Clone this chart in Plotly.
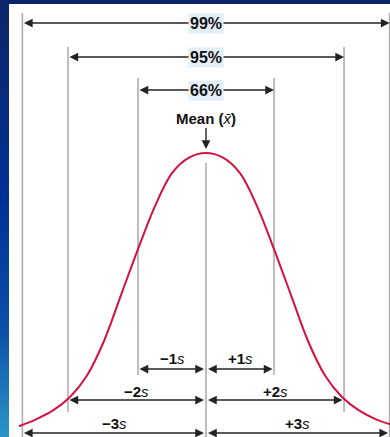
import plotly.graph_objects as go

# ---- data -------------------------------------------------------------
# Boundary positions (in units of s) of the drawn guide lines
bound_pos = [-2.7, -2.03, -1.0, 0.0, 1.0, 2.03, 2.7]
coverage_labels = ["66%", "95%", "99%"]          # inner -> outer
left_sd_labels = ["−1", "−2", "−3"]
right_sd_labels = ["+1", "+2", "+3"]

# Bell curve, relative height (peak = 1) against distance from the mean in s
curve_x = [-2.75, -2.5, -2.25, -2.0, -1.75, -1.5, -1.25, -1.0, -0.75, -0.5, -0.25,
           0.0, 0.25, 0.5, 0.75, 1.0, 1.25, 1.5, 1.75, 2.0, 2.25, 2.5, 2.75]
curve_y = [0.048, 0.072, 0.103, 0.150, 0.225, 0.345, 0.505, 0.665, 0.815, 0.930, 0.984,
           1.000, 0.984, 0.930, 0.815, 0.665, 0.505, 0.345, 0.225, 0.150, 0.103, 0.072, 0.052]

# ---- layout helpers ---------------------------------------------------
W, H = 390, 437
MEAN_PX, UNIT_PX = 206, 68        # horizontal placement of the mean and of 1 s
BASE_PX, PEAK_PX = 440, 153       # vertical placement of baseline and peak
SCALE = BASE_PX - PEAK_PX


def yv(px):
    """Vertical pixel row -> y-axis value."""
    return (BASE_PX - px) / SCALE


FONT = "Liberation Sans, Arial, sans-serif"
LINE_GREY = "#a9a9a9"
ARROW = "#242424"
CURVE = "#d3123f"

fig = go.Figure()

fig.add_trace(go.Scatter(
    x=curve_x, y=curve_y, mode="lines",
    line=dict(color=CURVE, width=2, shape="spline", smoothing=1.0),
    hoverinfo="skip", showlegend=False,
))

shapes = []

# Blue frame: gradient strip down the left, dark band along the top
stops = [(0, (13, 38, 104)), (200, (0, 48, 150)), (330, (12, 80, 168)), (437, (44, 150, 200))]


def frame_color(p):
    for (p0, c0), (p1, c1) in zip(stops[:-1], stops[1:]):
        if p0 <= p <= p1:
            t = (p - p0) / (p1 - p0)
            return "rgb(%d,%d,%d)" % tuple(round(a + (b - a) * t) for a, b in zip(c0, c1))
    return "rgb(%d,%d,%d)" % stops[-1][1]


band = 6
for top in range(0, H, band):
    shapes.append(dict(type="rect", xref="paper", yref="paper", layer="below",
                       x0=0, x1=9 / W, y0=1 - min(top + band + 1, H) / H, y1=1 - top / H,
                       line=dict(width=0), fillcolor=frame_color(top + band / 2)))
shapes.append(dict(type="rect", xref="paper", yref="paper", layer="below",
                   x0=0, x1=1, y0=1 - 4 / H, y1=1,
                   line=dict(width=0), fillcolor="rgb(12,36,104)"))

# Vertical guide lines: (top px, bottom px) for each boundary
line_spans = {0: (13, 437), 1: (47, 412), 2: (78, 375), 3: (163, 437),
              4: (78, 375), 5: (47, 412), 6: (13, 437)}
for i, xb in enumerate(bound_pos):
    top, bot = line_spans[i]
    shapes.append(dict(type="line", xref="x", yref="y", layer="below",
                       x0=xb, x1=xb, y0=yv(top), y1=yv(bot),
                       line=dict(color=LINE_GREY, width=1.5)))

annotations = []


def arrow(x_from, x_to, row, start_gap=0, end_gap=0):
    annotations.append(dict(
        x=x_to, y=yv(row), ax=x_from, ay=yv(row), xref="x", yref="y",
        axref="x", ayref="y", text="", showarrow=True,
        arrowside="end+start", arrowhead=2, startarrowhead=2,
        arrowsize=1.25, startarrowsize=1.25, arrowwidth=1.4, arrowcolor=ARROW,
        standoff=end_gap, startstandoff=start_gap))


# Coverage spans across the top
cov_rows = [90, 57, 23]
for k, (lab, row) in enumerate(zip(coverage_labels, cov_rows)):
    lo, hi = bound_pos[2 - k], bound_pos[4 + k]
    arrow(lo, hi, row)
    annotations.append(dict(
        x=0, y=yv(row), xref="x", yref="y", text=lab, showarrow=False,
        font=dict(family=FONT, size=16, color="#111111", weight="bold"),
        bgcolor="#e3eef9", borderpad=1))

# Mean marker
annotations.append(dict(
    x=0, y=yv(149), xref="x", yref="y",
    text="<b>Mean (</b><i>x̄</i><b>)</b>",
    showarrow=True, ax=0, ay=-31, arrowhead=2, arrowsize=1.25, arrowwidth=1.4,
    arrowcolor=ARROW, standoff=0,
    font=dict(family=FONT, size=15, color="#111111")))

# Standard-deviation spans along the bottom
sd_rows = [369, 400, 433]
sd_text_rows = [358, 391, 423]
for k in range(3):
    lo, hi = bound_pos[2 - k], bound_pos[4 + k]
    arrow(lo, 0, sd_rows[k], end_gap=2)
    arrow(hi, 0, sd_rows[k], end_gap=2)
    for lab, xc in ((left_sd_labels[k], lo / 2), (right_sd_labels[k], hi / 2)):
        annotations.append(dict(
            x=xc, y=yv(sd_text_rows[k]), xref="x", yref="y",
            text="<b>%s</b><i>s</i>" % lab,
            showarrow=False, font=dict(family=FONT, size=15, color="#111111")))

fig.update_layout(
    width=W, height=H, margin=dict(l=0, r=0, t=0, b=0),
    paper_bgcolor="white", plot_bgcolor="white",
    shapes=shapes, annotations=annotations, showlegend=False,
    xaxis=dict(range=[-MEAN_PX / UNIT_PX, (W - MEAN_PX) / UNIT_PX], visible=False, fixedrange=True),
    yaxis=dict(range=[yv(H), yv(0)], visible=False, fixedrange=True),
)

fig.write_html("out.html")
